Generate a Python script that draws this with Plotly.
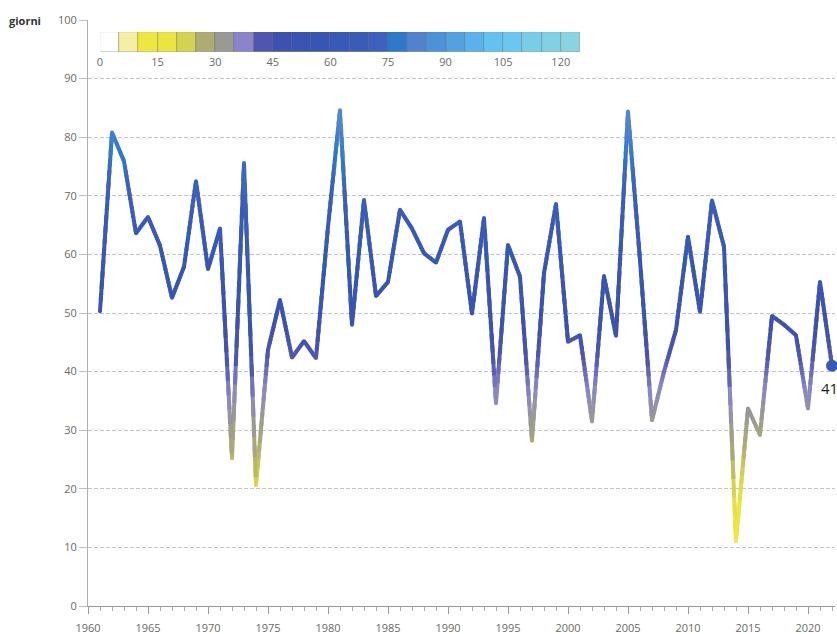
import numpy as np
import plotly.graph_objects as go

# Annual number of days, 1961-2022
years = list(range(1961, 2023))
giorni = [
    50.3, 80.8, 75.9, 63.6, 66.4, 61.5, 52.6, 57.9, 72.5, 57.5,   # 1961-1970
    64.4, 25.2, 75.6, 20.6, 43.7, 52.2, 42.4, 45.2, 42.3, 64.7,   # 1971-1980
    84.6, 48.0, 69.3, 52.9, 55.3, 67.6, 64.4, 60.2, 58.6, 64.2,   # 1981-1990
    65.6, 49.9, 66.2, 34.6, 61.6, 56.2, 28.2, 56.8, 68.6, 45.1,   # 1991-2000
    46.2, 31.5, 56.3, 46.1, 84.4, 59.0, 31.7, 40.0, 47.1, 63.0,   # 2001-2010
    50.2, 69.2, 61.3, 11.0, 33.7, 29.2, 49.5, 48.0, 46.2, 33.7,   # 2011-2020
    55.3, 41.0,                                                   # 2021-2022
]
last_label = "41"

# Colour scale (value -> colour) shared by the line and the legend strip
scale_values = [0, 5, 7.5, 12.5, 17.5, 22.5, 27.5, 32.5, 37.5, 42.5, 47.5, 57.5,
                67.5, 72.5, 77.5, 82.5, 87.5, 92.5, 97.5, 102.5, 107.5, 112.5, 117.5, 122.5, 125]
scale_colors = ['#ffffff', '#fbf6c8', '#f6eea0', '#f0e640', '#ebe63e', '#d4d24e', '#aeac70',
                '#9a9a94', '#8a84c8', '#5056b0', '#3c52ae', '#3756b4', '#3a5cb8', '#3b62bc',
                '#2f7ac8', '#4f84cc', '#4c92d8', '#52a2e2', '#5ab2ec', '#62c2f2', '#6ac8f0',
                '#78cee8', '#80d2e2', '#88d4e0', '#88d4e0']

# Legend strip: bins of 5 days from 0 to 125
legend_bins = list(range(0, 125, 5))
legend_ticks = [0, 15, 30, 45, 60, 75, 90, 105, 120]


def hex_rgb(h):
    h = h.lstrip('#')
    return np.array([int(h[i:i + 2], 16) for i in (0, 2, 4)], dtype=float)


_rgb = np.array([hex_rgb(c) for c in scale_colors])


def colour_of(v):
    r = np.interp(v, scale_values, _rgb[:, 0])
    g = np.interp(v, scale_values, _rgb[:, 1])
    b = np.interp(v, scale_values, _rgb[:, 2])
    return 'rgb(%d,%d,%d)' % (round(r), round(g), round(b))


fig = go.Figure()

# Gradient line: each year-to-year segment is cut into short, slightly
# overlapping pieces, each coloured by its own height; pieces of equal
# colour share a trace.
pieces = {}
steps = 16
overlap = 0.6 / steps
for i in range(len(years) - 1):
    x0, x1 = years[i], years[i + 1]
    y0, y1 = giorni[i], giorni[i + 1]
    for k in range(steps):
        t0 = k / steps
        t1 = min(1.0, (k + 1) / steps + overlap)
        xa, xb = x0 + (x1 - x0) * t0, x0 + (x1 - x0) * t1
        ya, yb = y0 + (y1 - y0) * t0, y0 + (y1 - y0) * t1
        ym = y0 + (y1 - y0) * (k + 0.5) / steps
        key = round(ym * 2) / 2
        xs, ys = pieces.setdefault(key, ([], []))
        xs += [xa, xb, None]
        ys += [ya, yb, None]

for key in sorted(pieces):
    xs, ys = pieces[key]
    fig.add_trace(go.Scatter(
        x=xs, y=ys, mode='lines',
        line=dict(color=colour_of(key), width=4),
        hoverinfo='skip', showlegend=False,
    ))

# Round joints at every year
fig.add_trace(go.Scatter(
    x=years, y=giorni, mode='markers',
    marker=dict(size=4, color=[colour_of(v) for v in giorni], line=dict(width=0)),
    hovertemplate='%{x}: %{y}<extra></extra>', showlegend=False,
))

# Highlighted last year
fig.add_trace(go.Scatter(
    x=[years[-1]], y=[giorni[-1]], mode='markers',
    marker=dict(size=12, color='#3a58b8', line=dict(width=0)),
    cliponaxis=False, hoverinfo='skip', showlegend=False,
))
fig.add_annotation(
    x=years[-1], y=giorni[-1], text=last_label, showarrow=False,
    yshift=-22, xshift=-3, font=dict(family='Open Sans, sans-serif', size=15, color='#222222'),
)

# Legend strip drawn as bars on its own small axis
fig.add_trace(go.Bar(
    x=[b + 2.5 for b in legend_bins], y=[1] * len(legend_bins), width=5,
    marker=dict(color=[('#ffffff' if b == 0 else colour_of(b + 2.5)) for b in legend_bins],
                line=dict(color='rgba(60,60,60,0.45)', width=0.6)),
    xaxis='x2', yaxis='y2', hoverinfo='skip', showlegend=False,
))

W, H = 837, 634
ml, mr, mt, mb = 88, 2, 20, 28
pw, ph = W - ml - mr, H - mt - mb
px_per_year = 12.0


def px_x(p):
    return (p - ml) / pw


def px_y(p):
    return (H - mb - p) / ph


tick_font = dict(family='Open Sans, sans-serif', size=11, color='#6a6a6a')

fig.update_layout(
    width=W, height=H,
    margin=dict(l=ml, r=mr, t=mt, b=mb),
    paper_bgcolor='white', plot_bgcolor='white',
    font=dict(family='Open Sans, sans-serif'),
    xaxis=dict(
        range=[1960, 1960 + pw / px_per_year],
        tickvals=list(range(1960, 2021, 5)),
        ticks='outside', ticklen=7, tickcolor='#9a9a9a', tickwidth=1,
        minor=dict(dtick=1, tick0=1960, ticks='outside', ticklen=4, tickcolor='#b0b0b0'),
        showgrid=False, zeroline=False,
        showline=True, linecolor='#9a9a9a', linewidth=1,
        tickfont=tick_font, ticklabelstandoff=5, automargin=False,
    ),
    yaxis=dict(
        range=[0, 100], dtick=10,
        ticks='outside', ticklen=8, tickcolor='#c0c0c0',
        showgrid=True, gridcolor='#c4c4c4', griddash='4px,2px', gridwidth=1,
        zeroline=False,
        showline=True, linecolor='#b0b0b0', linewidth=1,
        tickfont=tick_font, automargin=False,
    ),
    xaxis2=dict(
        domain=[px_x(100), px_x(580)], range=[0, 125], anchor='y2',
        tickvals=legend_ticks, ticks='', showgrid=False, zeroline=False,
        showline=False, tickfont=tick_font, fixedrange=True, automargin=False,
        ticklabelstandoff=2,
    ),
    yaxis2=dict(
        domain=[px_y(52), px_y(32)], range=[0, 1], anchor='x2',
        visible=False, fixedrange=True,
    ),
    bargap=0,
)

fig.add_annotation(
    xref='paper', yref='paper', x=px_x(7), y=1, xanchor='left', yanchor='middle',
    text='<b>giorni</b>', showarrow=False,
    font=dict(family='Open Sans, sans-serif', size=11, color='#333333'),
)

fig.write_html("out.html")
